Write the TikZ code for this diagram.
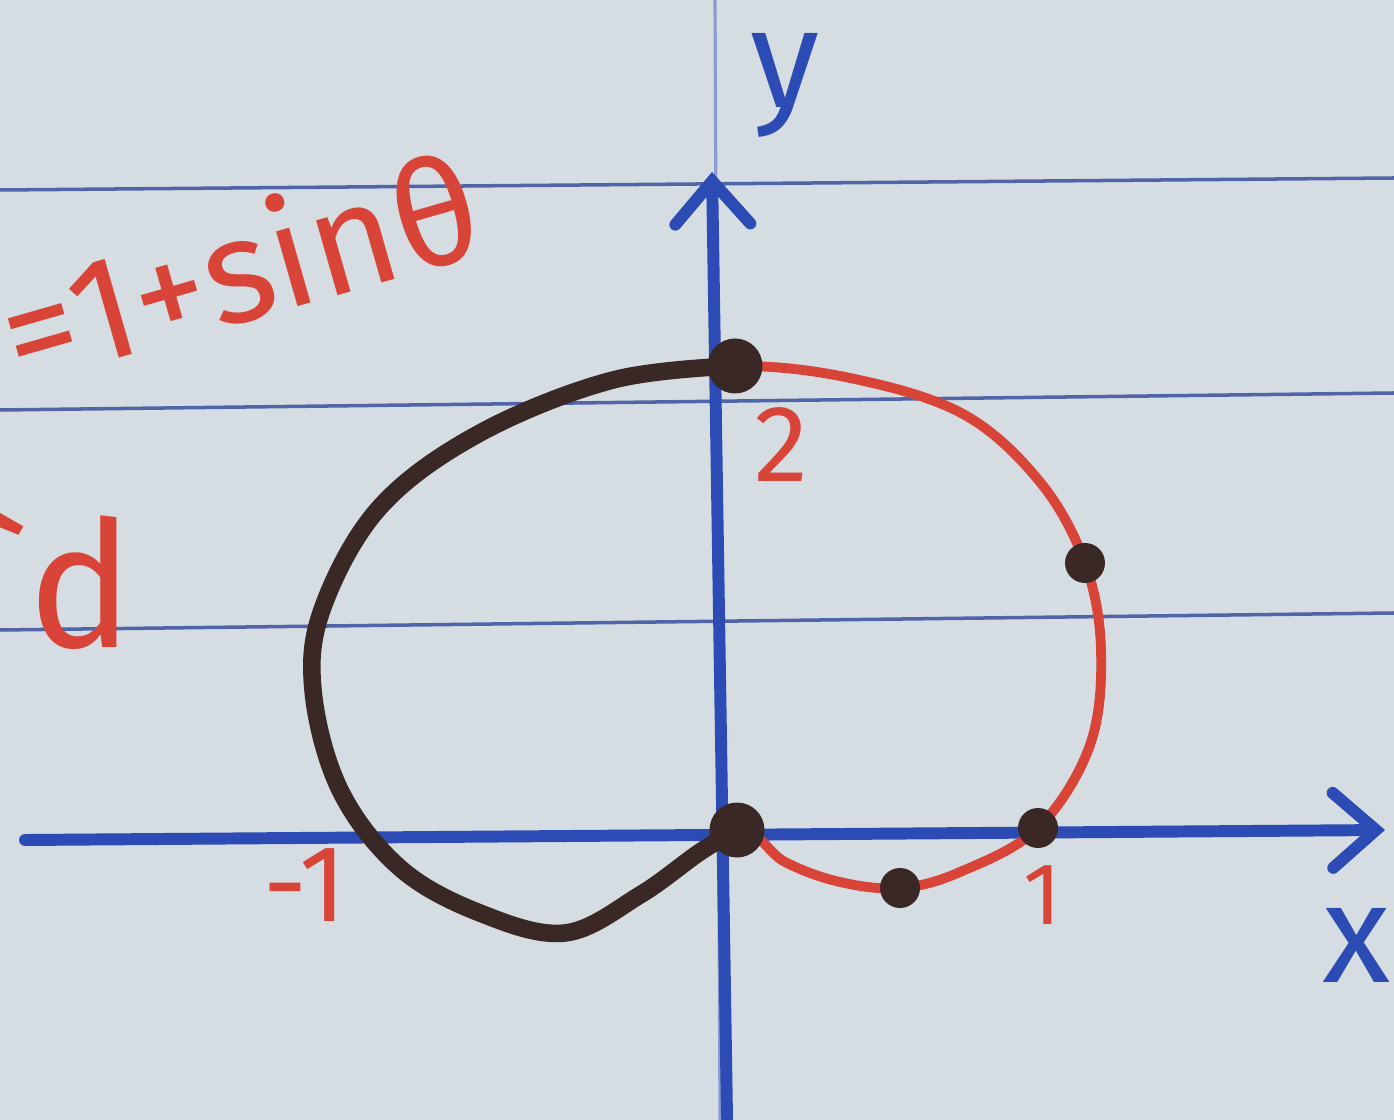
\documentclass[tikz,border=0pt]{standalone}
\usepackage{fontspec}
\setmainfont{Fira Sans}
\usetikzlibrary{arrows.meta}
\definecolor{paper}{HTML}{D5DDE2}
\definecolor{ruleblue}{HTML}{5064AA}
\definecolor{marginblue}{HTML}{8C9AD0}
\definecolor{penblue}{HTML}{2D4BB4}
\definecolor{penred}{HTML}{D94438}
\definecolor{inkdark}{HTML}{3A2826}

\begin{document}
\begin{tikzpicture}[
  x=0.1mm, y=-0.1mm,
  ruled/.style={draw=ruleblue, line width=1pt},
  margin/.style={draw=marginblue, line width=0.9pt},
  axis/.style={draw=penblue, line width=3.4pt, line cap=round,
    -{Straight Barb[length=4.3mm, width=7.5mm, line cap=round]}},
  redpen/.style={draw=penred, line width=2.8pt, line cap=round, line join=round},
  blackpen/.style={draw=inkdark, line width=5pt, line cap=round, line join=round},
  dot/.style={circle, fill=inkdark, inner sep=0pt, minimum size=4mm},
  bigdot/.style={dot, minimum size=5.5mm},
  redtext/.style={text=penred, inner sep=0pt, font=\fontsize{31}{36}\selectfont},
  bluetext/.style={text=penblue, inner sep=0pt, font=\fontsize{40}{46}\selectfont}
]
\useasboundingbox (0,0) rectangle (1394,1120);
\clip (0,0) rectangle (1394,1120);
\fill[paper] (0,0) rectangle (1394,1120);

% paper
\draw[ruled] (0,190) -- (1394,178);
\draw[ruled] (0,410) -- (1394,393);
\draw[ruled] (0,630) -- (1394,613);
\draw[margin] (715,0) -- (720,1120);

% axes
\coordinate (ybot) at (727,1118);
\coordinate (ytop) at (712,172);
\coordinate (xleft) at (25,840);
\coordinate (xright) at (1385,830);
\draw[axis] (ybot) -- (ytop);
\draw[axis] (xleft) -- (xright);

% curve
\coordinate (top) at (735,366);
\coordinate (origin) at (737,830);
\draw[redpen] plot[smooth cycle, tension=0.6] coordinates {
  (top) (850,378) (963,414) (1040,482) (1085,563) (1101,650) (1090,745)
  (1038,828) (960,872) (900,888) (840,882) (785,862) (origin) (660,882)
  (568,935) (480,917) (398,870) (338,790) (311,690) (321,607) (378,507)
  (478,433) (611,380)};
\draw[blackpen] plot[smooth, tension=0.6] coordinates {
  (top) (613,380) (480,433) (380,507) (323,607) (313,690) (340,790)
  (400,868) (480,913) (565,933) (640,895) (700,852) (origin)};

\node[bigdot] (ptop) at (top) {};
\node[bigdot] (porigin) at (origin) {};
\node[dot] (pright) at (1085,563) {};
\node[dot] (pone) at (1038,828) {};
\node[dot] (plow) at (900,888) {};

% labels
\node[redtext, font=\fontsize{42}{48}\selectfont, rotate=16, anchor=base east] (eqn) at (490,252) {r=1+sinθ};
\node[redtext, font=\fontsize{50}{56}\selectfont] (dlab) at (55,578) {\textasciigrave d};
\node[redtext] (two) at (781,445) {2};
\node[redtext] (mone) at (305,885) {-1};
\node[redtext, font=\fontsize{25}{30}\selectfont] (one) at (1043,895) {1};
\node[bluetext] (ylab) at (785,85) {y};
\node[bluetext] (xlab) at (1357,945) {x};
\end{tikzpicture}
\end{document}
